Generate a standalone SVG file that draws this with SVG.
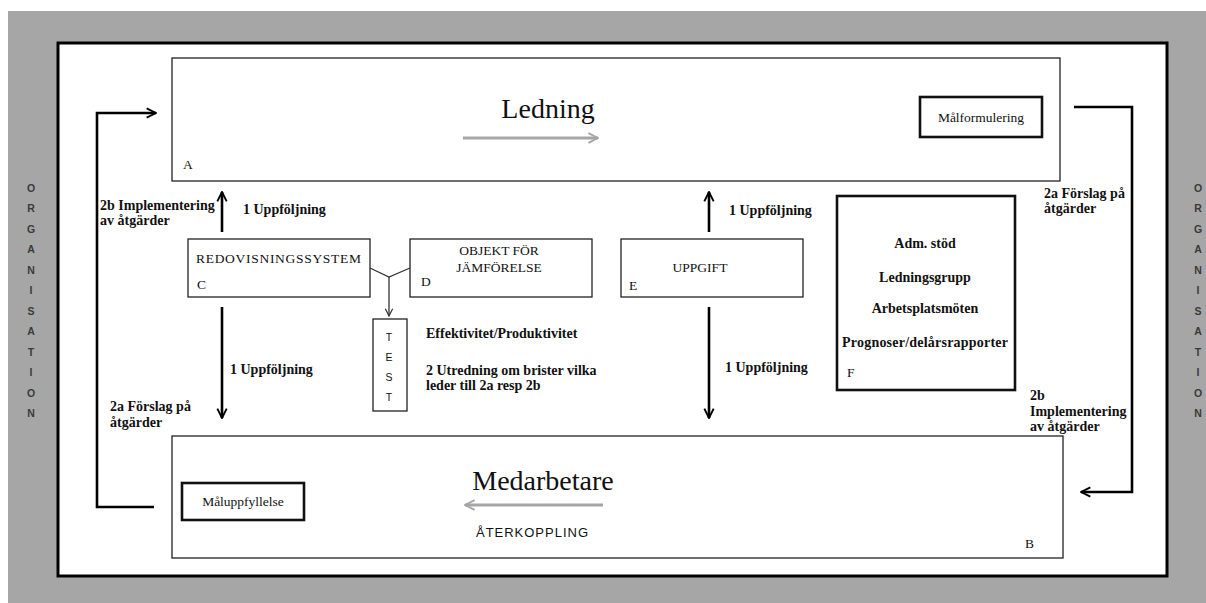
<svg xmlns="http://www.w3.org/2000/svg" width="1206" height="603" viewBox="0 0 1206 603">
<style>
.box{fill:#fff;stroke:#222;stroke-width:1.3}
.tbox{fill:#fff;stroke:#111;stroke-width:2.6}
.conn{fill:none;stroke:#000;stroke-width:2.6}
.thin{fill:none;stroke:#333;stroke-width:1.3}
.gray{fill:none;stroke:#a6a6a6;stroke-width:3}
.lbl{font-family:"Liberation Serif",serif;font-weight:bold;font-size:14px;fill:#111}
.reg{font-family:"Liberation Serif",serif;font-size:13.5px;fill:#111}
.big{font-family:"Liberation Serif",serif;font-size:28px;fill:#111}
.sans{font-family:"Liberation Sans",Arial,sans-serif;font-size:10.5px;fill:#111}
.org{font-family:"Liberation Sans",Arial,sans-serif;font-size:10.5px;font-weight:bold;fill:#3a3a3a}
</style>
<defs>
<marker id="ah" viewBox="0 0 10 10" refX="9" refY="5" markerWidth="4.5" markerHeight="4.5" orient="auto" markerUnits="strokeWidth"><path d="M1,1 L9,5 L1,9" fill="none" stroke="#000" stroke-width="1.6"/></marker>
<marker id="ahg" viewBox="0 0 10 10" refX="9" refY="5" markerWidth="4" markerHeight="4" orient="auto" markerUnits="strokeWidth"><path d="M1,1 L9,5 L1,9" fill="none" stroke="#a6a6a6" stroke-width="1.6"/></marker>
<marker id="aht" viewBox="0 0 10 10" refX="9" refY="5" markerWidth="7" markerHeight="7" orient="auto" markerUnits="strokeWidth"><path d="M1,1 L9,5 L1,9" fill="none" stroke="#333" stroke-width="1.3"/></marker>
</defs>
<rect x="8" y="11" width="1198" height="592" fill="#a6a6a6"/>
<rect x="58" y="43" width="1109" height="533" fill="#fff" stroke="#000" stroke-width="3"/>
<g id="org-left" class="org" text-anchor="middle">
<text x="31" y="192">O</text><text x="31" y="212">R</text><text x="31" y="233">G</text><text x="31" y="253">A</text><text x="31" y="274">N</text><text x="31" y="294">I</text><text x="31" y="315">S</text><text x="31" y="335">A</text><text x="31" y="356">T</text><text x="31" y="376">I</text><text x="31" y="397">O</text><text x="31" y="417">N</text>
</g>
<g id="org-right" class="org" text-anchor="middle">
<text x="1198" y="192">O</text><text x="1198" y="212">R</text><text x="1198" y="233">G</text><text x="1198" y="253">A</text><text x="1198" y="274">N</text><text x="1198" y="294">I</text><text x="1198" y="315">S</text><text x="1198" y="335">A</text><text x="1198" y="356">T</text><text x="1198" y="376">I</text><text x="1198" y="397">O</text><text x="1198" y="417">N</text>
</g>
<g id="A">
<rect class="box" x="172" y="58" width="888" height="123"/>
<text class="big" x="548" y="118" text-anchor="middle">Ledning</text>
<line class="gray" x1="463" y1="138" x2="598" y2="138" marker-end="url(#ahg)"/>
<text class="reg" x="183" y="169">A</text>
</g>
<g id="malformulering">
<rect class="tbox" x="920" y="97" width="122" height="40"/>
<text class="reg" x="981" y="122" text-anchor="middle">Målformulering</text>
</g>
<g id="B">
<rect class="box" x="172" y="436" width="891" height="122"/>
<text class="big" x="543" y="490" text-anchor="middle">Medarbetare</text>
<line class="gray" x1="603" y1="505" x2="465" y2="505" marker-end="url(#ahg)"/>
<text x="476" y="537" font-family="Liberation Sans,Arial,sans-serif" font-size="13" textLength="112" fill="#111">ÅTERKOPPLING</text>
<text class="reg" x="1025" y="548">B</text>
</g>
<g id="maluppfyllelse">
<rect class="tbox" x="182" y="483" width="122" height="37"/>
<text class="reg" x="243" y="506" text-anchor="middle">Måluppfyllelse</text>
</g>
<g id="C">
<rect class="box" x="188" y="239" width="182" height="58"/>
<text class="reg" x="196" y="263" font-size="14" textLength="165">REDOVISNINGSSYSTEM</text>
<text class="reg" x="197" y="289" font-size="15">C</text>
</g>
<g id="D">
<rect class="box" x="410" y="239" width="182" height="58"/>
<text class="reg" x="499" y="255" text-anchor="middle" font-size="14">OBJEKT FÖR</text>
<text class="reg" x="499" y="272" text-anchor="middle" font-size="14">JÄMFÖRELSE</text>
<text class="reg" x="421" y="286" font-size="15">D</text>
</g>
<g id="E">
<rect class="box" x="621" y="239" width="182" height="58"/>
<text class="reg" x="700" y="272" text-anchor="middle" font-size="14">UPPGIFT</text>
<text class="reg" x="629" y="290" font-size="15">E</text>
</g>
<g id="F">
<rect class="tbox" x="837" y="196" width="178" height="194"/>
<g class="lbl" text-anchor="middle">
<text x="925" y="248">Adm. stöd</text>
<text x="925" y="282">Ledningsgrupp</text>
<text x="925" y="313">Arbetsplatsmöten</text>
<text x="925" y="347" textLength="166">Prognoser/delårsrapporter</text>
</g>
<text class="reg" x="847" y="377" font-size="14">F</text>
</g>
<g id="TEST">
<rect class="box" x="373" y="319" width="34" height="92"/>
<g class="sans" text-anchor="middle">
<text x="389" y="341">T</text><text x="389" y="361">E</text><text x="389" y="381">S</text><text x="389" y="401">T</text>
</g>
</g>
<g id="connectors">
<polyline class="conn" points="1074,107 1132,107 1132,492 1081,492" marker-end="url(#ah)"/>
<polyline class="conn" points="154,507 97,507 97,113 156,113" marker-end="url(#ah)"/>
<line class="conn" x1="222" y1="232" x2="222" y2="192" marker-end="url(#ah)"/>
<line class="conn" x1="222" y1="307" x2="222" y2="418" marker-end="url(#ah)"/>
<line class="conn" x1="709" y1="232" x2="709" y2="192" marker-end="url(#ah)"/>
<line class="conn" x1="709" y1="307" x2="709" y2="418" marker-end="url(#ah)"/>
<polyline class="thin" points="370,268 389,277 410,268"/>
<line class="thin" x1="389" y1="277" x2="389" y2="316" marker-end="url(#aht)"/>
</g>
<g id="labels" class="lbl">
<text x="100" y="210">2b Implementering</text>
<text x="100" y="225">av åtgärder</text>
<text x="243" y="214">1 Uppföljning</text>
<text x="230" y="374">1 Uppföljning</text>
<text x="110" y="411">2a Förslag på</text>
<text x="110" y="427">åtgärder</text>
<text x="729" y="215">1 Uppföljning</text>
<text x="725" y="372">1 Uppföljning</text>
<text x="426" y="338">Effektivitet/Produktivitet</text>
<text x="426" y="375">2 Utredning om brister vilka</text>
<text x="426" y="390">leder till 2a resp 2b</text>
<text x="1044" y="198">2a Förslag på</text>
<text x="1044" y="213">åtgärder</text>
<text x="1030" y="400">2b</text>
<text x="1030" y="416">Implementering</text>
<text x="1030" y="431">av åtgärder</text>
</g>
</svg>
